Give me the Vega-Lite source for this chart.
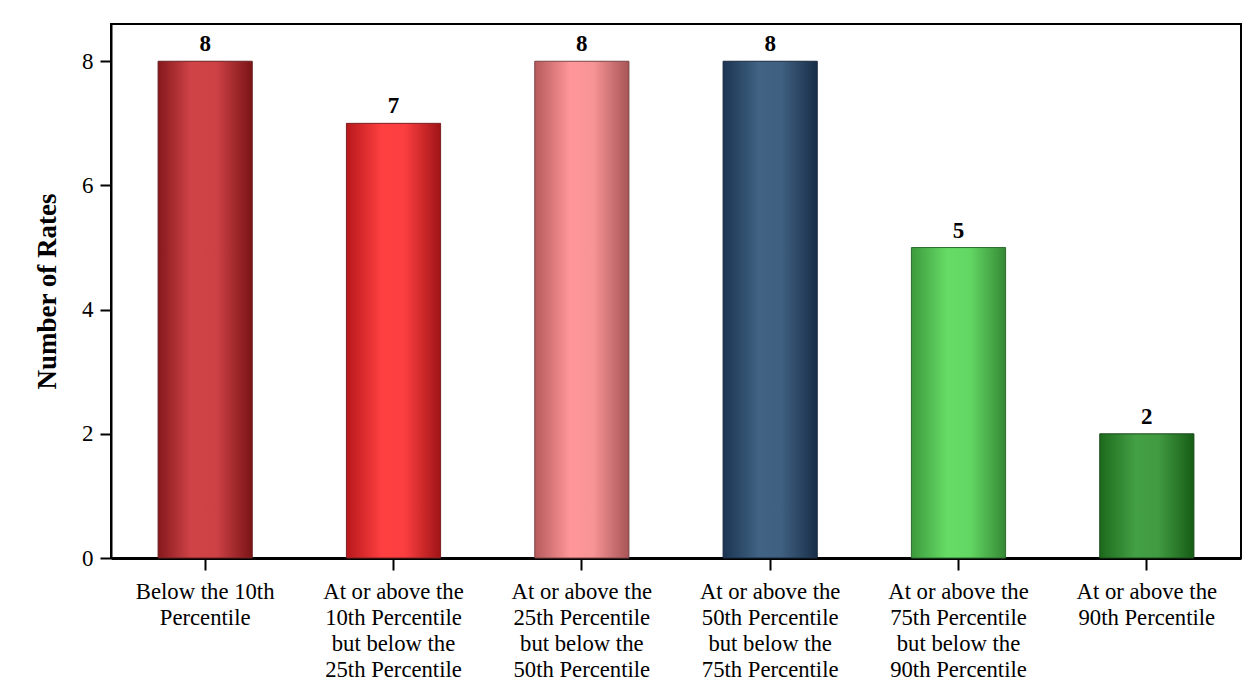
{
  "$schema": "https://vega.github.io/schema/vega-lite/v6.json",
  "width": 1130,
  "height": 534,
  "autosize": {"type": "none"},
  "padding": {"left": 111, "top": 24, "right": 11, "bottom": 136},
  "background": "white",
  "config": {
    "view": {"stroke": "black", "strokeWidth": 2},
    "font": "'Times New Roman', 'Liberation Serif', serif",
    "axis": {"grid": false, "domainColor": "black", "tickColor": "black", "labelColor": "black", "titleColor": "black", "labelFont": "'Times New Roman', 'Liberation Serif', serif", "titleFont": "'Times New Roman', 'Liberation Serif', serif"}
  },
  "data": {
    "values": [
      {"category": "Below the 10th|Percentile", "count": 8},
      {"category": "At or above the|10th Percentile|but below the|25th Percentile", "count": 7},
      {"category": "At or above the|25th Percentile|but below the|50th Percentile", "count": 8},
      {"category": "At or above the|50th Percentile|but below the|75th Percentile", "count": 8},
      {"category": "At or above the|75th Percentile|but below the|90th Percentile", "count": 5},
      {"category": "At or above the|90th Percentile", "count": 2}
    ]
  },
  "encoding": {
    "x": {
      "field": "category", "type": "nominal",
      "sort": ["Below the 10th|Percentile", "At or above the|10th Percentile|but below the|25th Percentile", "At or above the|25th Percentile|but below the|50th Percentile", "At or above the|50th Percentile|but below the|75th Percentile", "At or above the|75th Percentile|but below the|90th Percentile", "At or above the|90th Percentile"],
      "scale": {"paddingInner": 0.5, "paddingOuter": 0.25},
      "axis": {"title": null, "labelAngle": 0, "labelExpr": "split(datum.label, '|')", "labelFontSize": 22.7, "labelLineHeight": 26, "labelPadding": 10, "tickSize": 12, "tickWidth": 2, "domainWidth": 3, "labelLimit": 300}
    },
    "y": {
      "field": "count", "type": "quantitative",
      "scale": {"domain": [0, 8.6], "nice": false},
      "axis": {"values": [0, 2, 4, 6, 8], "title": "Number of Rates", "titleFontSize": 27, "titleFontWeight": "bold", "titlePadding": 20, "labelFontSize": 23, "labelPadding": 7, "tickSize": 11, "tickWidth": 2, "domainWidth": 2}
    }
  },
  "layer": [
    {"transform": [{"filter": "indexof(datum.category, 'Below') == 0"}],
     "mark": {"type": "bar", "stroke": "#6a2022", "strokeWidth": 1, "fill": {"gradient": "linear", "x1": 0, "x2": 1, "y1": 0, "y2": 0, "stops": [{"offset": 0, "color": "#84181b"}, {"offset": 0.35, "color": "#d04347"}, {"offset": 0.62, "color": "#cd4145"}, {"offset": 1, "color": "#7a1416"}]}}},
    {"transform": [{"filter": "indexof(datum.category, '10th Percentile|but') >= 0"}],
     "mark": {"type": "bar", "stroke": "#7a2022", "strokeWidth": 1, "fill": {"gradient": "linear", "x1": 0, "x2": 1, "y1": 0, "y2": 0, "stops": [{"offset": 0, "color": "#b8181c"}, {"offset": 0.38, "color": "#ff4040"}, {"offset": 0.62, "color": "#fb3e40"}, {"offset": 1, "color": "#a01416"}]}}},
    {"transform": [{"filter": "indexof(datum.category, '25th Percentile|but') >= 0"}],
     "mark": {"type": "bar", "stroke": "#7a4446", "strokeWidth": 1, "fill": {"gradient": "linear", "x1": 0, "x2": 1, "y1": 0, "y2": 0, "stops": [{"offset": 0, "color": "#b65a5c"}, {"offset": 0.38, "color": "#ff9799"}, {"offset": 0.62, "color": "#f79496"}, {"offset": 1, "color": "#a85456"}]}}},
    {"transform": [{"filter": "indexof(datum.category, '50th Percentile|but') >= 0"}],
     "mark": {"type": "bar", "stroke": "#1a2a3e", "strokeWidth": 1, "fill": {"gradient": "linear", "x1": 0, "x2": 1, "y1": 0, "y2": 0, "stops": [{"offset": 0, "color": "#1b3452"}, {"offset": 0.38, "color": "#416384"}, {"offset": 0.62, "color": "#3f6080"}, {"offset": 1, "color": "#182e48"}]}}},
    {"transform": [{"filter": "indexof(datum.category, '75th Percentile|but') >= 0"}],
     "mark": {"type": "bar", "stroke": "#2e6a2e", "strokeWidth": 1, "fill": {"gradient": "linear", "x1": 0, "x2": 1, "y1": 0, "y2": 0, "stops": [{"offset": 0, "color": "#3c9a3c"}, {"offset": 0.38, "color": "#66dc66"}, {"offset": 0.62, "color": "#63d763"}, {"offset": 1, "color": "#358a35"}]}}},
    {"transform": [{"filter": "indexof(datum.category, '90th Percentile') == 16"}],
     "mark": {"type": "bar", "stroke": "#1a4a1a", "strokeWidth": 1, "fill": {"gradient": "linear", "x1": 0, "x2": 1, "y1": 0, "y2": 0, "stops": [{"offset": 0, "color": "#1c6a1c"}, {"offset": 0.38, "color": "#44a044"}, {"offset": 0.62, "color": "#419b41"}, {"offset": 1, "color": "#165c16"}]}}},
    {"mark": {"type": "text", "fontWeight": "bold", "fontSize": 23, "baseline": "alphabetic", "dy": -10, "color": "black", "font": "'Times New Roman', 'Liberation Serif', serif"},
     "encoding": {"text": {"field": "count", "type": "quantitative"}}}
  ]
}
